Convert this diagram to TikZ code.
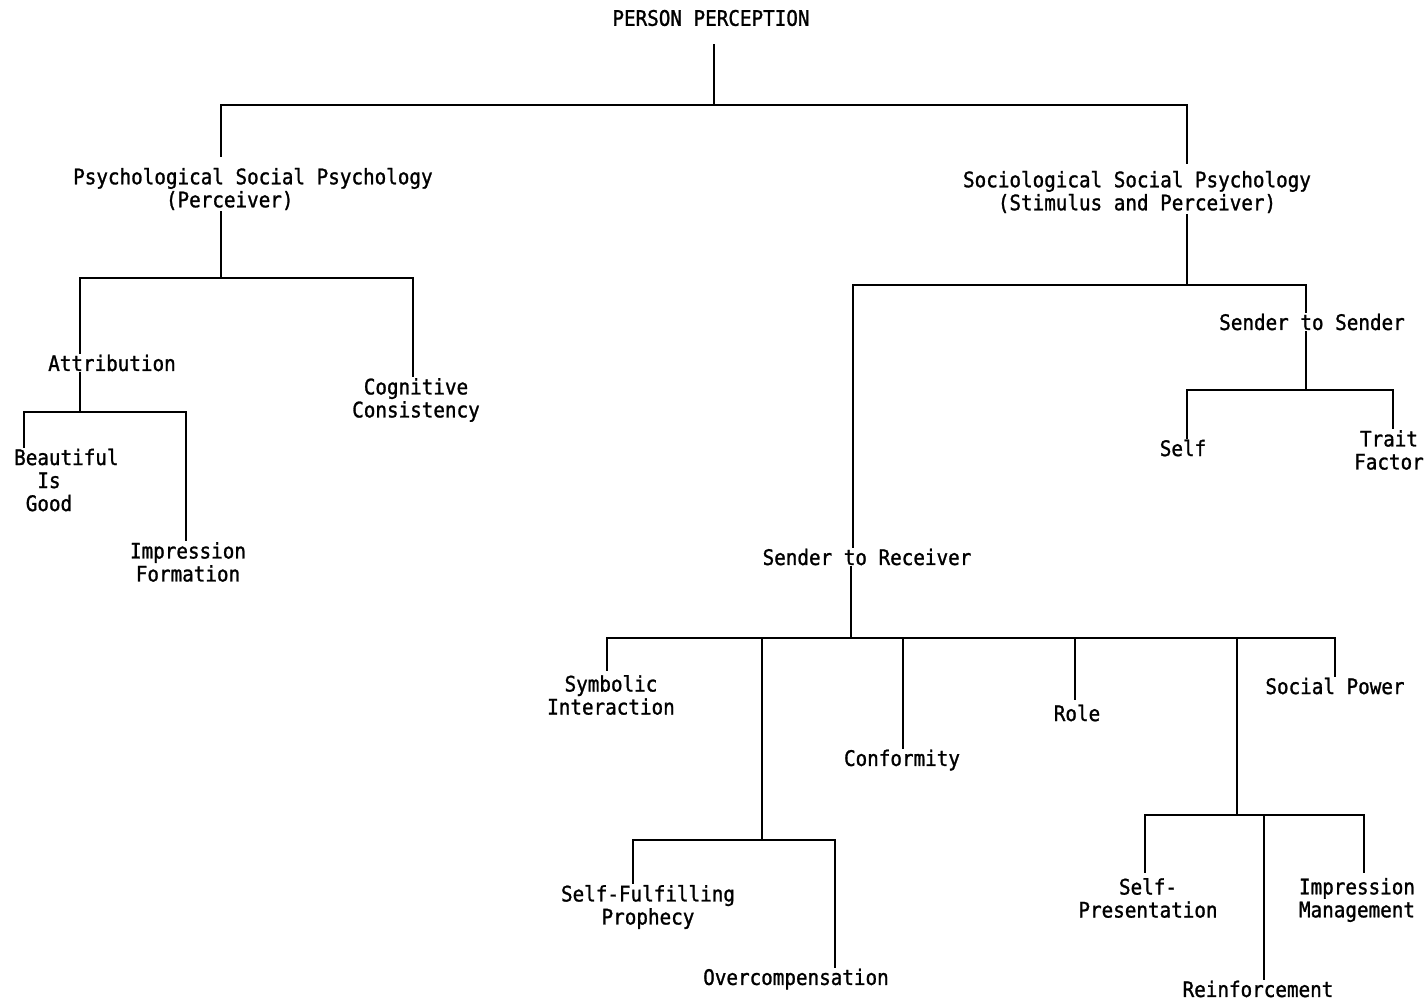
\documentclass[tikz,border=0pt]{standalone}
\usepackage{fontspec}
\setmonofont[FakeStretch=0.9,FakeBold=1.2]{DejaVu Sans Mono}
\begin{document}
\begin{tikzpicture}[x=1pt,y=-1pt,
  lbl/.style={font=\ttfamily\fontsize{21.4}{23}\selectfont, inner sep=2pt, align=center},
  conn/.style={line width=2.2pt, line cap=rect}]
\useasboundingbox[fill=white] (0,0) rectangle (1428,1002);
% labels
\node[lbl] (pp) at (711,18) {PERSON PERCEPTION};
\node[lbl, align=left, anchor=west] (psych) at (71,189) {Psychological Social Psychology\\\phantom{XXXXXXXX}(Perceiver)};
\node[lbl] (socio) at (1137,192) {Sociological Social Psychology\\(Stimulus and Perceiver)};
\node[lbl] (attr) at (112,363) {Attribution};
\node[lbl] (cog) at (416,400) {Cognitive\\Consistency};
\node[lbl, align=left, anchor=west] (beau) at (12,480) {Beautiful\\\phantom{XX}Is\\\phantom{X}Good};
\node[lbl] (impf) at (188,562) {Impression\\Formation};
\node[lbl] (sts) at (1312,322) {Sender to Sender};
\node[lbl] (self) at (1183,448) {Self};
\node[lbl] (trait) at (1389,450) {Trait\\Factor};
\node[lbl] (str) at (867,557) {Sender to Receiver};
\node[lbl] (symb) at (611,695) {Symbolic\\Interaction};
\node[lbl] (conf) at (902,760) {Conformity};
\node[lbl] (role) at (1077,713) {Role};
\node[lbl] (spow) at (1335,686) {Social Power};
\node[lbl] (sfp) at (648,907) {Self-Fulfilling\\Prophecy};
\node[lbl] (overc) at (796,979) {Overcompensation};
\node[lbl] (selfp) at (1148,898) {Self-\\Presentation};
\node[lbl] (reinf) at (1258,989) {Reinforcement};
\node[lbl] (imm) at (1357,900) {Impression\\Management};
% junctions
\coordinate (j0) at (714,105); \coordinate (j0L) at (221,105); \coordinate (j0R) at (1187,105);
\coordinate (j1) at (221,278); \coordinate (j1L) at (80,278); \coordinate (j1R) at (413,278);
\coordinate (j2) at (80,412); \coordinate (j2L) at (24,412); \coordinate (j2R) at (186,412);
\coordinate (j3) at (1187,285); \coordinate (j3L) at (853,285); \coordinate (j3R) at (1306,285);
\coordinate (j4) at (1306,390); \coordinate (j4L) at (1187,390); \coordinate (j4R) at (1393,390);
\coordinate (j5) at (851,638); \coordinate (j5L) at (607,638); \coordinate (j5R) at (1335,638);
\coordinate (j5b) at (762,638); \coordinate (j5c) at (903,638); \coordinate (j5d) at (1075,638); \coordinate (j5e) at (1237,638);
\coordinate (j6) at (762,840); \coordinate (j6L) at (633,840); \coordinate (j6R) at (835,840);
\coordinate (j7) at (1237,815); \coordinate (j7L) at (1145,815); \coordinate (j7R) at (1364,815); \coordinate (j7m) at (1264,815);
% connectors
\draw[conn, shorten <=17pt] (pp.south -| j0) -- (j0);
\draw[conn, shorten <=10pt, shorten >=6pt] (psych.north -| j0L) -- (j0L) -- (j0R) -- (socio.north -| j0R);
\draw[conn] (psych.south -| j1) -- (j1);
\draw[conn] (attr.north -| j1L) -- (j1L) -- (j1R) -- (cog.north -| j1R);
\draw[conn] (attr.south -| j2) -- (j2);
\draw[conn] (beau.north -| j2L) -- (j2L) -- (j2R) -- (impf.north -| j2R);
\draw[conn] (socio.south -| j3) -- (j3);
\draw[conn] (str.north -| j3L) -- (j3L) -- (j3R) -- (sts.north -| j3R);
\draw[conn] (sts.south -| j4) -- (j4);
\draw[conn] (self.north -| j4L) -- (j4L) -- (j4R) -- (trait.north -| j4R);
\draw[conn] (str.south -| j5) -- (j5);
\draw[conn, shorten <=3pt] (symb.north -| j5L) -- (j5L) -- (j5R) -- (spow.north -| j5R);
\draw[conn] (j5b) -- (j6);
\draw[conn] (j5c) -- (conf.north -| j5c);
\draw[conn, shorten >=4pt] (j5d) -- (role.north -| j5d);
\draw[conn] (j5e) -- (j7);
\draw[conn] (sfp.north -| j6L) -- (j6L) -- (j6R) -- (overc.north -| j6R);
\draw[conn, shorten <=4pt, shorten >=4pt] (selfp.north -| j7L) -- (j7L) -- (j7R) -- (imm.north -| j7R);
\draw[conn] (j7m) -- (reinf.north -| j7m);
\end{tikzpicture}
\end{document}
